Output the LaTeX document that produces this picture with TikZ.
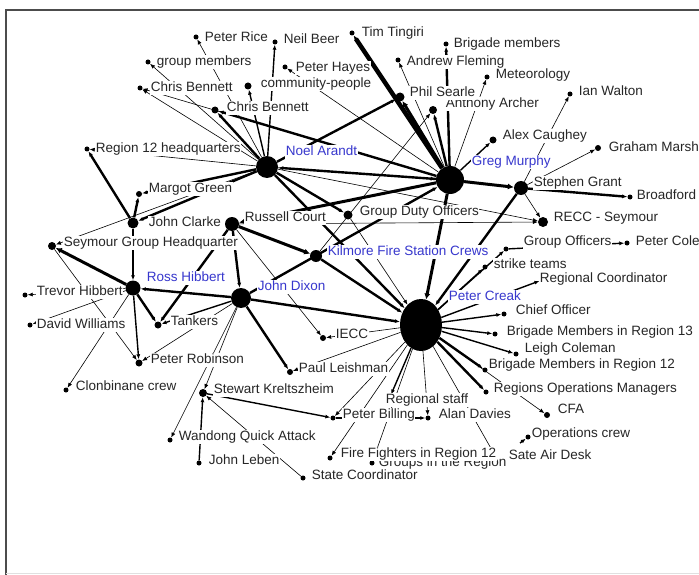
\documentclass[tikz,border=0pt]{standalone}
\usepackage{fontspec}
\setmainfont{Liberation Sans}
\usetikzlibrary{arrows.meta, shapes.geometric, backgrounds}
\definecolor{hubblue}{RGB}{55,55,205}

\begin{document}
\begin{tikzpicture}[
    x=1pt, y=-1pt,
    dot/.style={circle, fill=black, inner sep=0pt, minimum size=5pt},
    hub/.style={circle, fill=black, inner sep=0pt},
    lbl/.style={anchor=west, fill=white, inner sep=0.6pt, text height=9.5pt,
                text depth=2.5pt, font=\fontsize{13.5}{14}\selectfont, text=black!85},
    actor/.style={lbl, text=hubblue},
    arrow/.style={-{Latex[length=5pt, width=4pt]}, line width=0.6pt},
    arrowmed/.style={arrow, line width=1.4pt},
    arrowbold/.style={arrow, line width=2.4pt},
    arrowheavy/.style={arrow, line width=4.5pt}
]
    \useasboundingbox (0,0) rectangle (699,575);
    \clip (0,0) rectangle (699,575);

    % frame of the screenshot
    \draw[black!70, line width=2.5pt] (6,575) -- (6,10) -- (699,10);
    \draw[black!12, line width=1pt] (6,573) -- (699,573);

    % hubs
    \node[hub, ellipse, minimum width=42pt, minimum height=52pt] (pc) at (421,325) {};
    \node[hub, minimum size=28pt] (greg) at (450,180) {};
    \node[hub, minimum size=22pt] (noel) at (267,167) {};
    \node[hub, minimum size=20pt] (jd) at (241,298) {};
    \node[hub, minimum size=15pt] (ross) at (133,288) {};
    \node[hub, minimum size=12pt] (kilmore) at (316,256) {};
    \node[hub, minimum size=14pt] (stephen) at (521,188) {};
    \node[hub, minimum size=14pt] (russell) at (232,224) {};
    \node[hub, minimum size=11pt] (clarke) at (133,223) {};
    \node[hub, minimum size=9pt] (gdo) at (348,215) {};
    \node[hub, minimum size=10pt] (recc) at (543,222) {};
    \node[hub, minimum size=8pt] (sghq) at (52,246) {};

    % small dots
    \node[dot] (rice) at (196,37) {};
    \node[dot] (nbeer) at (275,42) {};
    \node[dot] (tim) at (352,33) {};
    \node[dot] (bmembers) at (446,44) {};
    \node[dot] (hayes) at (285,67) {};
    \node[dot] (gmembers) at (148,62) {};
    \node[dot] (fleming) at (398,60) {};
    \node[dot] (meteo) at (487,77) {};
    \node[dot] (cb1) at (140,88) {};
    \node[dot, minimum size=7pt] (community) at (248,86) {};
    \node[dot] (ian) at (570,94) {};
    \node[dot, minimum size=7pt] (cb2) at (215,110) {};
    \node[dot, minimum size=9pt] (searle) at (400,97) {};
    \node[dot, minimum size=8pt] (archer) at (433,110) {};
    \node[dot] (r12hq) at (87,149) {};
    \node[dot, minimum size=7pt] (alex) at (493,140) {};
    \node[dot, minimum size=6pt] (graham) at (598,148) {};
    \node[dot, minimum size=6pt] (margot) at (139,194) {};
    \node[dot] (broadford) at (630,197) {};
    \node[dot] (gofficers) at (506,249) {};
    \node[dot] (pcole) at (627,243) {};
    \node[dot] (strike) at (485,267) {};
    \node[dot] (rcoord) at (542,280) {};
    \node[dot] (chief) at (504,314) {};
    \node[dot] (bm13) at (495,334) {};
    \node[dot] (leigh) at (516,354) {};
    \node[dot] (bm12) at (485,370) {};
    \node[dot] (rom) at (486,392) {};
    \node[dot, minimum size=6pt] (cfa) at (547,415) {};
    \node[dot] (opcrew) at (528,437) {};
    \node[dot] (sate) at (497,459) {};
    \node[dot] (groups) at (372,463) {};
    \node[dot] (firef) at (330,458) {};
    \node[dot] (alan) at (428,418) {};
    \node[dot] (rstaff) at (390,397) {};
    \node[dot] (billing) at (333,418) {};
    \node[dot, minimum size=6pt] (leish) at (290,372) {};
    \node[dot, minimum size=6pt] (iecc) at (323,338) {};
    \node[dot, minimum size=8pt] (stewart) at (203,393) {};
    \node[dot] (wandong) at (170,440) {};
    \node[dot] (leben) at (199,463) {};
    \node[dot] (statec) at (303,478) {};
    \node[dot, minimum size=7pt] (robinson) at (139,363) {};
    \node[dot] (clonb) at (66,390) {};
    \node[dot, minimum size=7pt] (tankers) at (158,325) {};
    \node[dot] (williams) at (30,325) {};
    \node[dot] (trevor) at (25,295) {};
    \coordinate (opcrew-in) at (520,443);

    % connectors
    \begin{scope}[on background layer]
    \draw[arrow] (noel) -- (rice);
    \draw[arrow] (noel) -- (gmembers);
    \draw[arrow] (noel) -- (cb1);
    \draw[arrowbold] (noel) -- (cb2);
    \draw[arrowmed] (noel) -- (nbeer);
    \draw[arrowmed] (noel) -- (community);
    \draw[arrow] (noel) -- (r12hq);
    \draw[arrowbold] (noel) -- (margot);
    \draw[arrowbold] (noel) -- (clarke);
    \draw[arrow] (noel) -- (sghq);
    \draw[arrowbold] (noel) -- (searle);
    \draw[arrowbold] (noel) -- (gdo);
    \draw[arrowbold] (noel) -- (pc);
    \draw[arrow] (noel) -- (greg);
    \draw[arrow] (noel) -- (recc);

    \draw[arrowheavy] (greg) -- (tim);
    \draw[arrowbold] (greg) -- (bmembers);
    \draw[arrow] (greg) -- (fleming);
    \draw[line width=3pt, -{Latex[length=6pt, width=6pt]}] (greg) -- (searle);
    \draw[arrowbold] (greg) -- (archer);
    \draw[arrow] (greg) -- (meteo);
    \draw[arrowmed] (greg) -- (alex);
    \draw[arrow] (greg) -- (hayes);
    \draw[arrow] (greg) -- (cb1);
    \draw[arrowbold] (greg) -- (cb2);
    \draw[arrowbold] (greg) -- (noel);
    \draw[line width=3pt, -{Latex[length=6pt, width=6pt]}] (greg) -- (russell);
    \draw[line width=3pt, -{Latex[length=6pt, width=6pt]}] (greg) -- (stephen);
    \draw[line width=3pt, -{Latex[length=6pt, width=6pt]}] (greg) -- (pc);

    \draw[arrowbold] (stephen) -- (broadford);
    \draw[arrow] (stephen) -- (graham);
    \draw[arrow] (stephen) -- (ian);
    \draw[arrow] (stephen) -- (recc);
    \draw[arrowbold] (stephen) -- (pc);

    \draw[line width=3pt, -{Latex[length=6pt, width=6pt]}] (russell) -- (kilmore);
    \draw[arrowbold] (russell) -- (jd);
    \draw[arrow] (russell) -- (recc);
    \draw[arrow] (russell) -- (iecc);
    \draw[arrowbold] (russell) -- (tankers);

    \draw[arrowbold] (kilmore) -- (pc);
    \draw[arrow] (kilmore) -- (archer);
    \draw[arrow] (gdo) -- (pc);
    \draw[arrowbold] (jd) -- (greg);

    \draw[arrowbold] (jd) -- (ross);
    \draw[arrowbold] (jd) -- (pc);
    \draw[arrowmed] (jd) -- (tankers);
    \draw[arrow] (jd) -- (robinson);
    \draw[arrow] (jd) -- (stewart);
    \draw[arrow] (jd) -- (wandong);
    \draw[arrowbold] (jd) -- (leish);

    \draw[line width=3pt, -{Latex[length=6pt, width=6pt]}] (ross) -- (sghq);
    \draw[arrow] (ross) -- (trevor);
    \draw[arrow] (ross) -- (williams);
    \draw[arrowbold] (ross) -- (tankers);
    \draw[arrowmed] (ross) -- (robinson);
    \draw[arrow] (ross) -- (clonb);
    \draw[arrowbold] (clarke) -- (ross);
    \draw[arrowbold] (clarke) -- (r12hq);
    \draw[arrowbold] (clarke) -- (margot);
    \draw[arrow] (sghq) -- (robinson);

    \draw[arrowmed] (stewart) -- (billing);
    \draw[arrowmed] (leben) -- (stewart);
    \draw[arrow] (statec) -- (stewart);
    \draw[arrowmed] (billing) -- (alan);

    \draw[arrowmed] (pc) -- (chief);
    \draw[arrowmed] (pc) -- (bm13);
    \draw[arrowmed] (pc) -- (leigh);
    \draw[arrowbold] (pc) -- (bm12);
    \draw[arrowbold] (pc) -- (rom);
    \draw[arrow] (pc) -- (cfa);
    \draw[arrow] (pc) -- (sate);
    \draw[arrow] (pc) -- (alan);
    \draw[arrow] (pc) -- (groups);
    \draw[arrowmed] (pc) -- (rstaff);
    \draw[arrow] (pc) -- (firef);
    \draw[arrow] (pc) -- (billing);
    \draw[arrow] (pc) -- (leish);
    \draw[arrow] (pc) -- (iecc);
    \draw[arrowmed] (pc) -- (strike);
    \draw[arrowmed] (pc) -- (gofficers);
    \draw[arrowmed] (pc) -- (rcoord);
    \draw[arrowmed] (opcrew-in) -- (opcrew);
    \draw[arrowmed] (gofficers) -- (pcole);
    \end{scope}

    % labels
    \node[lbl] (rice-t) at (204,38) {Peter Rice};
    \node[lbl] (nbeer-t) at (283,40) {Neil Beer};
    \node[lbl] (tim-t) at (361,33) {Tim Tingiri};
    \node[lbl] (bmembers-t) at (453,44) {Brigade members};
    \node[lbl] (hayes-t) at (295,68) {Peter Hayes};
    \node[lbl] (gmembers-t) at (156,62) {group members};
    \node[lbl] (fleming-t) at (406,62) {Andrew Fleming};
    \node[lbl] (meteo-t) at (495,75) {Meteorology};
    \node[lbl] (cb1-t) at (150,88) {Chris Bennett};
    \node[lbl] (community-t) at (260,84) {community-people};
    \node[lbl] (ian-t) at (578,92) {Ian Walton};
    \node[lbl] (cb2-t) at (226,108) {Chris Bennett};
    \node[lbl] (archer-t) at (445,104) {Anthony Archer};
    \node[lbl] (searle-t) at (409,93) {Phil Searle};
    \node[lbl] (r12hq-t) at (95,149) {Region 12 headquarters};
    \node[actor] (noel-t) at (285,152) {Noel Arandt};
    \node[lbl] (alex-t) at (502,136) {Alex Caughey};
    \node[actor] (greg-t) at (471,162) {Greg Murphy};
    \node[lbl] (graham-t) at (608,148) {Graham Marsh};
    \node[lbl] (stephen-t) at (533,183) {Stephen Grant};
    \node[lbl] (broadford-t) at (636,196) {Broadford};
    \node[lbl] (margot-t) at (148,189) {Margot Green};
    \node[lbl] (clarke-t) at (148,223) {John Clarke};
    \node[lbl] (russell-t) at (244,218) {Russell Court};
    \node[lbl] (gdo-t) at (359,212) {Group Duty Officers};
    \node[lbl] (recc-t) at (553,218) {RECC - Seymour};
    \node[lbl] (sghq-t) at (63,243) {Seymour Group Headquarter};
    \node[actor] (kilmore-t) at (327,252) {Kilmore Fire Station Crews};
    \node[lbl] (gofficers-t) at (523,242) {Group Officers};
    \node[lbl] (pcole-t) at (635,242) {Peter Cole};
    \node[lbl] (strike-t) at (493,265) {strike teams};
    \node[lbl] (rcoord-t) at (539,279) {Regional Coordinator};
    \node[actor] (ross-t) at (146,278) {Ross Hibbert};
    \node[actor] (jd-t) at (257,287) {John Dixon};
    \node[lbl] (trevor-t) at (36,292) {Trevor Hibbert};
    \node[actor] (pc-t) at (448,297) {Peter Creak};
    \node[lbl] (chief-t) at (515,311) {Chief Officer};
    \node[lbl] (tankers-t) at (170,322) {Tankers};
    \node[lbl] (williams-t) at (36,325) {David Williams};
    \node[lbl] (iecc-t) at (335,335) {IECC};
    \node[lbl] (bm13-t) at (506,332) {Brigade Members in Region 13};
    \node[lbl] (leigh-t) at (524,349) {Leigh Coleman};
    \node[lbl] (robinson-t) at (150,360) {Peter Robinson};
    \node[lbl] (bm12-t) at (488,365) {Brigade Members in Region 12};
    \node[lbl] (leish-t) at (298,369) {Paul Leishman};
    \node[lbl] (clonb-t) at (75,387) {Clonbinane crew};
    \node[lbl] (stewart-t) at (213,390) {Stewart Kreltszheim};
    \node[lbl] (rom-t) at (493,389) {Regions Operations Managers};
    \node[lbl] (alan-t) at (438,415) {Alan Davies};
    \node[lbl] (rstaff-t) at (385,400) {Regional staff};
    \node[lbl] (billing-t) at (342,415) {Peter Billing};
    \node[lbl] (cfa-t) at (557,410) {CFA};
    \node[lbl] (opcrew-t) at (531,434) {Operations crew};
    \node[lbl] (wandong-t) at (178,437) {Wandong Quick Attack};
    \node[lbl] (groups-t) at (378,463) {Groups in the Region};
    \node[lbl] (firef-t) at (340,454) {Fire Fighters in Region 12};
    \node[lbl] (sate-t) at (508,456) {Sate Air Desk};
    \node[lbl] (leben-t) at (208,461) {John Leben};
    \node[lbl] (statec-t) at (311,476) {State Coordinator};

\end{tikzpicture}
\end{document}
